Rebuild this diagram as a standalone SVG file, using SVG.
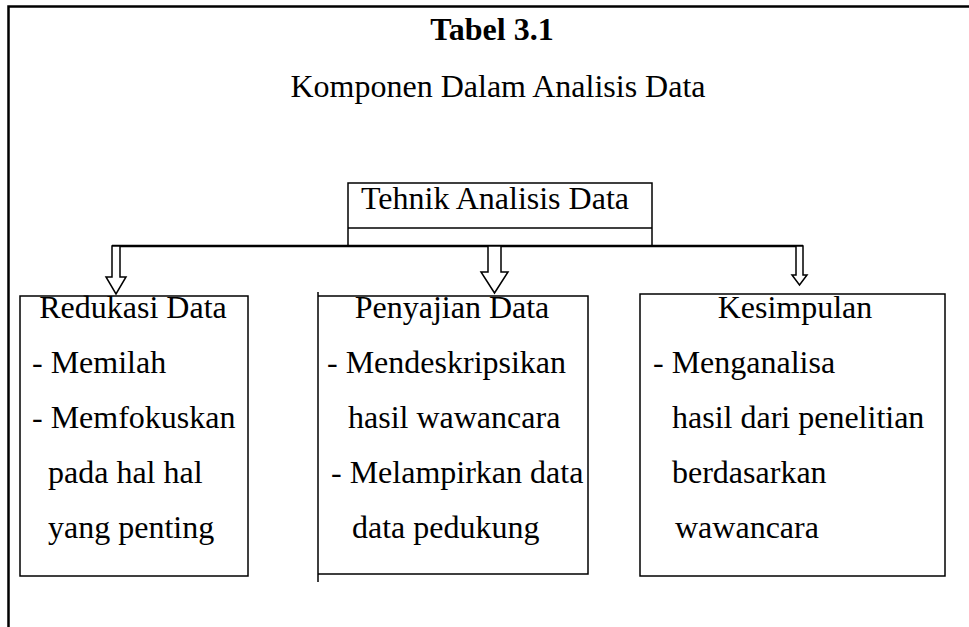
<svg xmlns="http://www.w3.org/2000/svg" width="969" height="627" viewBox="0 0 969 627">
<style>
  text { font-family: "Liberation Serif", "Times New Roman", serif; font-size: 32px; fill: #000; }
  .title { font-weight: bold; }
  .mid { text-anchor: middle; }
  .box { fill: none; stroke: #000; stroke-width: 1.5; }
  .frame { fill: none; stroke: #000; stroke-width: 2.5; }
  .bar { fill: none; stroke: #000; stroke-width: 2.5; }
  .arrow { fill: #fff; stroke: #000; stroke-width: 1.5; stroke-linejoin: miter; }
</style>
<rect width="969" height="627" fill="#fff"/>
<g id="frame">
  <path class="frame" d="M8.5,627 V6.5 H969"/>
</g>
<g id="title">
  <text class="title mid" x="492" y="40">Tabel 3.1</text>
  <text class="mid" x="498" y="97">Komponen Dalam Analisis Data</text>
</g>
<g id="node-tehnik">
  <rect class="box" x="348" y="183" width="304" height="63"/>
  <line class="box" x1="348" y1="228" x2="652" y2="228"/>
  <text class="mid" x="495" y="209">Tehnik Analisis Data</text>
</g>
<g id="connectors">
  <line class="bar" x1="112" y1="246" x2="803" y2="246"/>
  <polygon class="arrow" points="112,246 120,246 120,277 126,277 116,294 106,277 112,277"/>
  <polygon class="arrow" points="488,246 501,246 501,272 508,272 494.5,293 481,272 488,272"/>
  <polygon class="arrow" points="796,246 803,246 803,275 807,275 799.5,285 792,275 796,275"/>
</g>
<g id="node-reduksi">
  <rect class="box" x="20" y="296" width="228" height="280"/>
  <text class="mid" x="133" y="318">Redukasi Data</text>
  <text x="32" y="373">- Memilah</text>
  <text x="32" y="428">- Memfokuskan</text>
  <text x="48" y="483">pada hal hal</text>
  <text x="48" y="538">yang penting</text>
</g>
<g id="node-penyajian">
  <path class="box" d="M318,292 V582 M318,296 H588 V574 H318"/>
  <text class="mid" x="452" y="318">Penyajian Data</text>
  <text x="327" y="373">- Mendeskripsikan</text>
  <text x="348" y="428">hasil wawancara</text>
  <text x="331" y="483">- Melampirkan data</text>
  <text x="352" y="538">data pedukung</text>
</g>
<g id="node-kesimpulan">
  <rect class="box" x="640" y="294" width="305" height="282"/>
  <text class="mid" x="795" y="318">Kesimpulan</text>
  <text x="653" y="373">- Menganalisa</text>
  <text x="672" y="428">hasil dari penelitian</text>
  <text x="672" y="483">berdasarkan</text>
  <text x="675" y="538">wawancara</text>
</g>
</svg>
